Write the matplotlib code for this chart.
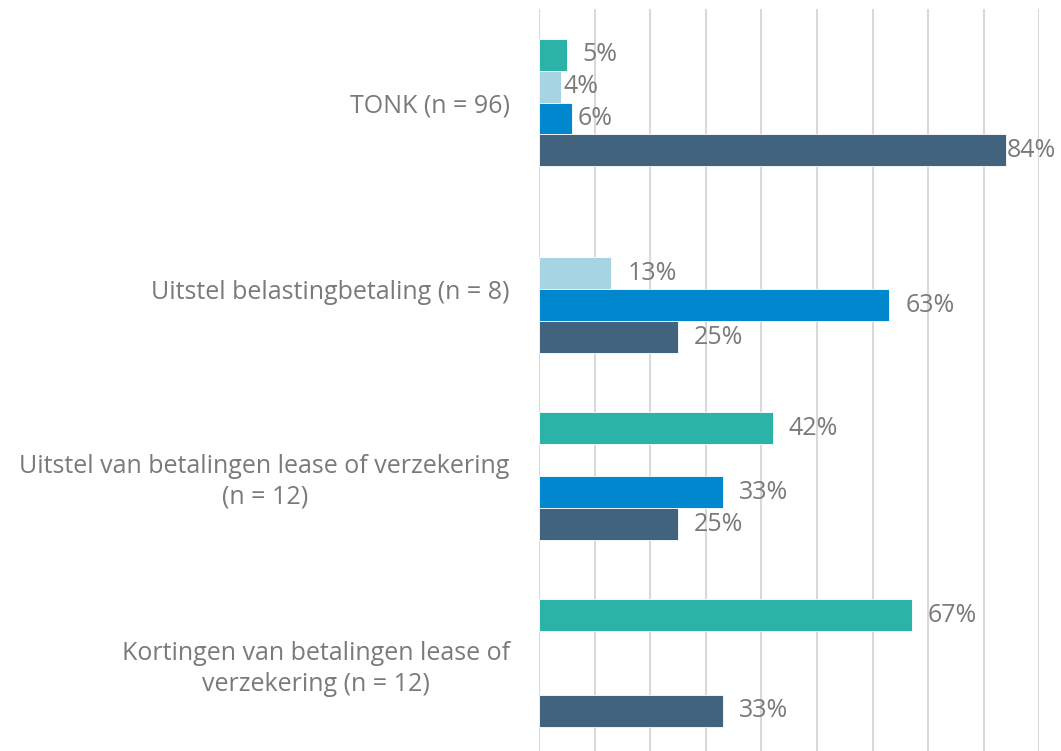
import matplotlib
matplotlib.use("Agg")
import matplotlib.pyplot as plt
import numpy as np

plt.rcParams['font.family'] = ['Open Sans', 'DejaVu Sans']

# Categories (top to bottom) and the share (%) per series
categories = [
    "TONK (n = 96)",
    "Uitstel belastingbetaling (n = 8)",
    "Uitstel van betalingen lease of verzekering\n(n = 12)",
    "Kortingen van betalingen lease of\nverzekering (n = 12)",
]
series_a = [5, 0, 42, 67]    # teal
series_b = [4, 13, 0, 0]     # light blue
series_c = [6, 63, 33, 0]    # blue
series_d = [84, 25, 25, 33]  # dark slate

colors = ["#2BB3A8", "#A7D4E3", "#0087CD", "#41637E"]
text_color = "#7A7A7A"

# Horizontal nudge (pixels) for value labels that sit close to their bar
label_nudge = {(0, 1): 2, (0, 2): 5, (0, 3): 1}
default_nudge = 16

W, H = 1061, 751
fig = plt.figure(figsize=(W / 100, H / 100), dpi=100)
ax = fig.add_axes([539 / W, (H - 756.4) / H, (1039.5 - 539) / W, (756.4 - 9.1) / H])

all_series = [series_a, series_b, series_c, series_d]
n_series = len(all_series)
bar_h = 0.171
y = np.arange(len(categories))

for s, (vals, col) in enumerate(zip(all_series, colors)):
    offs = (s - (n_series - 1) / 2) * bar_h
    for i, v in enumerate(vals):
        if v == 0:
            continue
        yy = y[i] + offs
        ax.barh(yy, v, height=bar_h, color=col, edgecolor="white",
                linewidth=0.6, zorder=3)
        nudge = label_nudge.get((i, s), default_nudge)
        ax.annotate(f"{v}%", xy=(v, yy), xytext=(nudge * 0.72, 0),
                    textcoords="offset points", ha="left", va="center",
                    fontsize=18, color=text_color, annotation_clip=False,
                    zorder=4)

ax.set_xlim(0, 90)
ax.set_ylim(len(categories) - 0.5, -0.5)
ax.set_xticks(np.arange(0, 91, 10))
ax.set_xticklabels([])
ax.tick_params(axis="x", length=0)
ax.grid(axis="x", color="#D9D9D9", linewidth=1.5, zorder=0)
ax.set_yticks(y)
ax.set_yticklabels(categories, fontsize=18, color=text_color,
                   multialignment="center", linespacing=1.3)
ax.tick_params(axis="y", length=0, pad=21)
for sp in ax.spines.values():
    sp.set_visible(False)

fig.savefig("out.png", dpi=100)
